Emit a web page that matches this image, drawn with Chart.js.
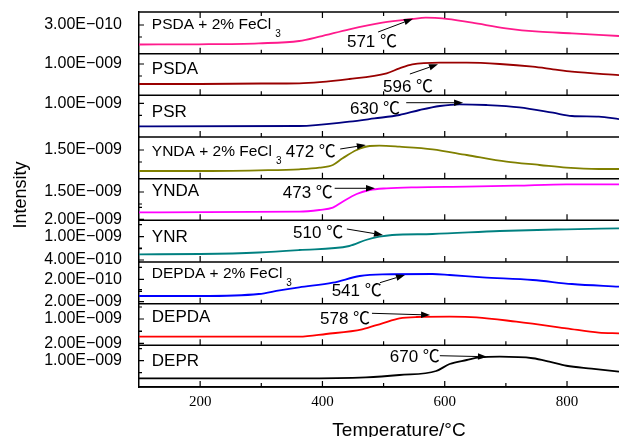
<!DOCTYPE html>
<html>
<head>
<meta charset="utf-8">
<script src="https://cdn.jsdelivr.net/npm/chart.js@4.4.0/dist/chart.umd.min.js"></script>
<style>
  html, body { margin: 0; padding: 0; background: #fff; }
  #wrap { width: 619px; height: 437px; }
</style>
</head>
<body>
<div id="wrap"><canvas id="chart" width="619" height="437"></canvas></div>
<script>
'use strict'

// panels, top to bottom
const panelNames = ['PSDA + 2% FeCl', 'PSDA', 'PSR', 'YNDA + 2% FeCl', 'YNDA', 'YNR', 'DEPDA + 2% FeCl', 'DEPDA', 'DEPR'];
const panelSubs = ['3', '', '', '3', '', '', '3', '', ''];
const lineColors = ['#ff1a8c', '#990000', '#000080', '#808000', '#ff00ff', '#008080', '#0000ff', '#ff0000', '#000000'];

// temperature (°C) and intensity (relative, 0-10 inside each panel)
const psdaFeT = [100, 198, 296, 362, 395, 444, 498, 547, 569, 596, 645, 700, 754, 808, 885];
const psdaFeI = [2.2, 2.25, 2.49, 3.04, 4.07, 5.85, 7.43, 8.32, 8.63, 8.49, 7.43, 6.09, 5.27, 4.89, 4.24];
const psdaT = [100, 200, 300, 362, 444, 505, 526, 547, 592, 636, 690, 744, 777, 808, 885];
const psdaI = [2.72, 2.72, 2.84, 2.89, 3.92, 5.29, 6.49, 7.45, 7.83, 7.83, 7.52, 6.87, 6.25, 5.67, 4.85];
const psrT = [100, 362, 444, 485, 526, 559, 592, 624, 668, 722, 777, 808, 852, 885];
const psrI = [2.57, 2.64, 3.67, 4.45, 5.28, 6.48, 7.44, 7.85, 7.68, 7.13, 5.83, 5.04, 4.87, 4.3];
const yndaFeT = [100, 200, 296, 362, 395, 417, 433, 456, 477, 493, 526, 580, 636, 701, 755, 799, 852, 885];
const yndaFeI = [1.84, 1.84, 2.01, 2.25, 2.63, 3.28, 4.89, 6.88, 7.84, 7.91, 7.67, 7.05, 5.68, 4.07, 3.28, 2.63, 2.32, 2.32];
const yndaT = [100, 362, 395, 417, 433, 456, 477, 505, 554, 636, 717, 799, 885];
const yndaI = [1.93, 2.07, 2.48, 3.03, 4.47, 6.32, 7.28, 7.69, 7.93, 8.07, 8.31, 8.65, 8.65];
const ynrT = [100, 200, 296, 362, 444, 471, 493, 514, 580, 690, 799, 885];
const ynrI = [1.85, 1.92, 2.28, 2.88, 3.84, 5.28, 6.07, 6.48, 6.72, 7.44, 7.85, 8.09];
const depdaFeT = [100, 200, 296, 330, 362, 417, 461, 498, 580, 608, 662, 744, 808, 885];
const depdaFeI = [1.84, 1.84, 2.32, 3.2, 3.93, 5.03, 6.64, 7.05, 7.12, 6.88, 6.33, 5.68, 4.72, 4.07];
const depdaT = [100, 362, 406, 465, 498, 526, 554, 608, 652, 717, 799, 852, 885];
const depdaI = [2.07, 2.07, 2.72, 3.85, 5.29, 6.49, 6.8, 6.87, 6.73, 5.67, 4.09, 3.03, 2.89];
const deprT = [100, 362, 471, 526, 586, 608, 636, 657, 690, 744, 771, 799, 840, 885];
const deprI = [2.09, 2.09, 2.33, 2.88, 3.84, 5.52, 6.48, 7.13, 7.27, 6.9, 6.1, 5.1, 4.4, 3.67];

const seriesT = [psdaFeT, psdaT, psrT, yndaFeT, yndaT, ynrT, depdaFeT, depdaT, deprT];
const seriesI = [psdaFeI, psdaI, psrI, yndaFeI, yndaI, ynrI, depdaFeI, depdaI, deprI];

// tick labels
const xTicks = [200, 400, 600, 800];
const yTickVals = [[6.88], [7.52], [8.09], [6.88], [6.8, 0.25], [6.07, 0.48], [5.84, 0.47], [6.32, 0.48], [6.31]];
const yTickLabels = [
  ['3.00E\u2212010'], ['1.00E\u2212009'], ['1.00E\u2212009'], ['1.50E\u2212009'],
  ['1.50E\u2212009', '2.00E\u2212009'], ['1.00E\u2212009', '4.00E\u2212010'],
  ['2.00E\u2212010', '2.00E\u2212009'], ['1.00E\u2212009', '2.00E\u2212009'], ['1.00E\u2212009']
];

// peak notes: text at (t, v), arrow from (t1, v1) to (t2, v2)
const peakNotes = [
  { text: '571 \u2103', t: 481, v: 2.8, t1: 491, v1: 5.2, t2: 548, v2: 8.36 },
  { text: '596 \u2103', t: 540, v: 2.0, t1: 543, v1: 5.12, t2: 589, v2: 7.45 },
  { text: '630 \u2103', t: 486, v: 6.72, t1: 537, v1: 8.23, t2: 630, v2: 8.23 },
  { text: '472 \u2103', t: 381, v: 6.23, t1: 429, v1: 7.12, t2: 471, v2: 8.08 },
  { text: '473 \u2103', t: 376, v: 6.49, t1: 420, v1: 7.69, t2: 486, v2: 7.69 },
  { text: '510 \u2103', t: 393, v: 6.89, t1: 440, v1: 7.92, t2: 499, v2: 6.48 },
  { text: '541 \u2103', t: 456, v: 2.87, t1: 494, v1: 5.03, t2: 535, v2: 6.88 },
  { text: '578 \u2103', t: 437, v: 6.25, t1: 481, v1: 7.69, t2: 576, v2: 7.28 },
  { text: '670 \u2103', t: 551, v: 7.13, t1: 592, v1: 7.51, t2: 669, v2: 7.27 }
];
const labelV = [6.88, 6.2, 6.0, 6.47, 6.87, 5.93, 7.29, 6.73, 6.07];

const sans = "'Liberation Sans', Arial, 'Noto Sans CJK SC', sans-serif";
const panelIds = panelNames.map((n, i) => 'p' + i);

const datasets = panelNames.map((name, i) => ({
  label: name + panelSubs[i],
  yAxisID: panelIds[i],
  data: seriesT[i].map((t, k) => ({ x: t, y: seriesI[i][k] })),
  borderColor: lineColors[i],
  borderWidth: 1.8,
  pointRadius: 0,
  fill: false,
  cubicInterpolationMode: 'monotone'
}));

const scales = {
  x: {
    type: 'linear',
    position: 'bottom',
    min: 100,
    max: 885,
    grid: { display: false, drawTicks: false },
    border: { display: true, color: '#000', width: 1.5 },
    ticks: { font: { family: "'Liberation Serif', 'Times New Roman', serif", size: 15 }, color: '#000', padding: 6 },
    afterBuildTicks: (s) => { s.ticks = xTicks.map(v => ({ value: v })); },
    afterFit: (s) => { s.height = 50; s.paddingLeft = 0; s.paddingRight = 0; }
  }
};
// stacked left axes are laid out bottom-up, so add the last panel first
for (let i = panelIds.length - 1; i >= 0; i--) {
  scales[panelIds[i]] = {
    type: 'linear',
    position: 'left',
    stack: 'panels',
    stackWeight: 1,
    min: 0,
    max: 10,
    grid: { display: false, drawTicks: false },
    border: { display: true, color: '#000', width: 1.5 },
    ticks: {
      autoSkip: false,
      font: { family: sans, size: 16 },
      color: '#000',
      padding: 17,
      callback: (value, index) => yTickLabels[i][index]
    },
    afterBuildTicks: (s) => { s.ticks = yTickVals[i].map(v => ({ value: v })); },
    afterFit: (s) => { s.width = 139; s.paddingTop = 0; s.paddingBottom = 0; }
  };
}

function drawArrow(ctx, x1, y1, x2, y2) {
  const a = Math.atan2(y2 - y1, x2 - x1);
  const hl = 9, hw = 3.2;
  const bx = x2 - hl * Math.cos(a), by = y2 - hl * Math.sin(a);
  ctx.beginPath();
  ctx.moveTo(x1, y1);
  ctx.lineTo(bx, by);
  ctx.stroke();
  ctx.beginPath();
  ctx.moveTo(x2, y2);
  ctx.lineTo(bx + hw * Math.sin(a), by - hw * Math.cos(a));
  ctx.lineTo(bx - hw * Math.sin(a), by + hw * Math.cos(a));
  ctx.closePath();
  ctx.fill();
}

const framePlugin = {
  id: 'frame',
  afterDraw(chart) {
    const ctx = chart.ctx;
    const area = chart.chartArea;
    const xs = chart.scales.x;
    ctx.save();
    ctx.strokeStyle = '#000';
    ctx.fillStyle = '#000';

    // panel separators
    ctx.lineWidth = 1.5;
    ctx.beginPath();
    ctx.moveTo(area.left, area.top);
    ctx.lineTo(area.right, area.top);
    panelIds.forEach(id => {
      const s = chart.scales[id];
      ctx.moveTo(area.left, s.bottom);
      ctx.lineTo(area.right, s.bottom);
    });
    ctx.stroke();

    // inward ticks
    ctx.lineWidth = 1.2;
    ctx.beginPath();
    panelIds.forEach((id, i) => {
      const s = chart.scales[id];
      for (let t = 200; t <= 800; t += 100) {
        const px = xs.getPixelForValue(t);
        const len = t % 200 === 0 ? 6 : 4;
        ctx.moveTo(px, s.bottom);
        ctx.lineTo(px, s.bottom - len);
        if (i === 0) {
          ctx.moveTo(px, s.top);
          ctx.lineTo(px, s.top + len);
        }
      }
      yTickVals[i].forEach(v => {
        const py = s.getPixelForValue(v);
        ctx.moveTo(area.left, py);
        ctx.lineTo(area.left + 5, py);
        [-12, 12].forEach(d => {
          const my = py + d;
          if (my > s.top + 2 && my < s.bottom - 2) {
            ctx.moveTo(area.left, my);
            ctx.lineTo(area.left + 3, my);
          }
        });
      });
    });
    ctx.stroke();

    // panel names
    ctx.textBaseline = 'middle';
    ctx.textAlign = 'left';
    panelIds.forEach((id, i) => {
      const s = chart.scales[id];
      const px = xs.getPixelForValue(121);
      const py = s.getPixelForValue(labelV[i]);
      const size = panelSubs[i] ? 15.5 : 17;
      ctx.font = size + 'px ' + sans;
      ctx.fillText(panelNames[i], px, py);
      if (panelSubs[i]) {
        const w = ctx.measureText(panelNames[i]).width;
        ctx.font = '10px ' + sans;
        ctx.fillText(panelSubs[i], px + w + 4, py + 9.5);
      }
    });

    // peak notes
    ctx.lineWidth = 1;
    ctx.font = '17px ' + sans;
    ctx.textAlign = 'center';
    peakNotes.forEach((n, i) => {
      const s = chart.scales[panelIds[i]];
      ctx.fillText(n.text, xs.getPixelForValue(n.t), s.getPixelForValue(n.v));
      drawArrow(ctx, xs.getPixelForValue(n.t1), s.getPixelForValue(n.v1),
        xs.getPixelForValue(n.t2), s.getPixelForValue(n.v2));
    });

    // axis titles
    ctx.font = '19px ' + sans;
    ctx.textAlign = 'center';
    ctx.textBaseline = 'alphabetic';
    ctx.fillText('Temperature/\u00b0C', (area.left + area.right) / 2 + 20, 436);
    ctx.save();
    ctx.translate(26, 195);
    ctx.rotate(-Math.PI / 2);
    ctx.font = '18px ' + sans;
    ctx.fillText('Intensity', 0, 0);
    ctx.restore();

    ctx.restore();
  }
};

new Chart(document.getElementById('chart'), {
  type: 'line',
  data: { datasets },
  options: {
    responsive: false,
    animation: false,
    devicePixelRatio: 1,
    layout: { padding: { top: 12, left: 0, right: 0, bottom: 0 } },
    plugins: { legend: { display: false }, tooltip: { enabled: false } },
    scales
  },
  plugins: [framePlugin]
});
</script>
</body>
</html>
